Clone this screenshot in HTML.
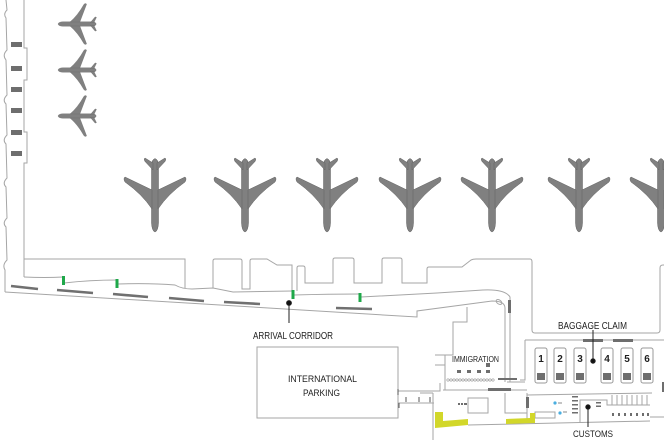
<!DOCTYPE html>
<html><head><meta charset="utf-8"><style>
html,body{margin:0;padding:0;background:#fff;}
svg{display:block;}
text{font-family:"Liberation Sans Narrow","Liberation Sans",sans-serif;fill:#1e1e1e;}
</style></head><body>
<svg width="664" height="440" viewBox="0 0 664 440" xmlns="http://www.w3.org/2000/svg">
<defs>
<g id="pl">
<path d="M-3.5,8 Q-3.5,3 0,1.5 Q3.5,3 3.5,8 L3.5,66 Q3,74 0,75 Q-3,74 -3.5,66 Z"/>
<path d="M-3,33 L-30,20 Q-32,21.5 -30,25 Q-13,37 -3,52 Z"/>
<path d="M3,33 L30,20 Q32,21.5 30,25 Q13,37 3,52 Z"/>
<path d="M-2,6 L-10,1 Q-11.5,2 -10,4.5 L-2,13 Z"/>
<path d="M2,6 L10,1 Q11.5,2 10,4.5 L2,13 Z"/>
</g>
</defs>
<g fill="#808080" stroke="#626262" stroke-width="0.5">
<use href="#pl" transform="translate(155,157)"/>
<use href="#pl" transform="translate(245,157)"/>
<use href="#pl" transform="translate(327,157)"/>
<use href="#pl" transform="translate(410,157)"/>
<use href="#pl" transform="translate(492,157)"/>
<use href="#pl" transform="translate(579,157)"/>
<use href="#pl" transform="translate(661,157)"/>
<use href="#pl" transform="translate(97,24) scale(0.52,0.66) rotate(90)"/>
<use href="#pl" transform="translate(97,70) scale(0.52,0.66) rotate(90)"/>
<use href="#pl" transform="translate(97,116) scale(0.52,0.66) rotate(90)"/>
</g>
<g fill="none" stroke="#a6a6a6" stroke-width="1">
<path d="M6,0 L7,10 Q3,14 6,18 L7,50 Q2,55 6,60 L7,95 Q2,100 6,104 L7,135 Q2,140 6,144 L7,178 Q2,183 6,187 L7,218 Q2,223 6,227 L7,260 Q2,265 5,270 L5,292"/>
<path d="M24,0 V48 H27 V80 H24 V132 H27 V163 H24 V277"/>
<path d="M5,292 L417,317 V311 L492,301 Q505,301 505,308 V382"/>
<path d="M24,277 Q45,278 63,277 M64,283 Q90,280 117,280 M118,284 Q150,283 175,285 Q182,289 192,289 L213,288 L233,292 L292,291 M294,295 Q330,294 359,294 M361,297 Q400,295 437,293 L483,290 Q505,289 510,297 V300"/>
<path d="M24,259 H185 V288"/>
<path d="M213,288 V261 Q213,259 215,259 H240 Q242,259 242,261 V289 H250 V261 Q250,259 252,259 H267 L277,265 H292 V291"/>
<path d="M297,291 V268 Q297,266 299,266 H303 Q305,266 305,268 V283 H333 V260 Q333,258 335,258 H352 Q354,258 354,260 V283 H382 V260 Q382,258 384,258 H400 Q402,258 402,260 V283 H427 V269 Q427,267 429,267 H462 L471,260 Q473,259 476,259 H530 Q532,259 532,262 V330 Q532,333 535,333 H657 Q660,333 660,330 V268 Q660,265 663,265 H664"/>
<ellipse cx="499" cy="302" rx="3.2" ry="2" transform="rotate(35 499 302)"/>
<path d="M510,313 V382"/>
<path d="M467,307 V322 H453 V355 H445 V390 M435,355 H445 M435,365 H445"/>
<path d="M443,390 H527 M507,382 H525 M525,340 V380 H520 M525,340 H664"/>
<rect x="257" y="347" width="141" height="71"/>
<path d="M398,391 H440 V383 M398,403 H434 M433,393 V440 M420,393 H433 M430,397 V403"/>
<path d="M406,397 V402 M419,397 V402 M430,397 V402" stroke="#555"/>
<path d="M398,389 V395 M399,403 V408" stroke="#555"/>
<rect x="468" y="398" width="20" height="15"/>
<path d="M505,393 V413 H527 M527,393 V423 M527,395 L652,393"/>
<rect x="535" y="412" width="20" height="6"/>
<path d="M468,425 L650,421 M650,417 H664"/>
<path d="M580,422 V400 H607 V405 H650"/>
<path d="M612,395 V405 M617,395 V405 M622,395 V405 M627,395 V405 M632,395 V405 M637,395 V405 M642,395 V405 M647,395 V405"/>
<g stroke="#999" fill="#fff">
<rect x="535" y="348" width="12" height="35" rx="2"/>
<rect x="554" y="348" width="12" height="35" rx="2"/>
<rect x="574" y="348" width="12" height="35" rx="2"/>
<rect x="601" y="348" width="12" height="35" rx="2"/>
<rect x="621" y="348" width="12" height="35" rx="2"/>
<rect x="641" y="348" width="12" height="35" rx="2"/>
</g>
</g>
<g fill="#6e6e6e">
<rect x="11" y="42" width="11" height="5"/>
<rect x="11" y="66" width="11" height="5"/>
<rect x="11" y="87" width="11" height="5"/>
<rect x="11" y="108" width="11" height="5"/>
<rect x="11" y="130" width="11" height="5"/>
<rect x="11" y="151" width="11" height="5"/>
<rect x="508" y="300" width="3" height="13"/>
<rect x="488" y="388" width="23" height="3"/>
<rect x="498" y="378" width="19" height="2"/>
<rect x="526" y="397" width="3" height="11"/>
<rect x="583" y="339" width="20" height="3"/>
<rect x="613" y="339" width="20" height="3"/>
<rect x="662" y="382" width="3" height="10"/>
<rect x="537" y="373" width="8" height="7"/>
<rect x="556" y="373" width="8" height="7"/>
<rect x="576" y="373" width="8" height="7"/>
<rect x="603" y="373" width="8" height="7"/>
<rect x="623" y="373" width="8" height="7"/>
<rect x="643" y="373" width="8" height="7"/>
<rect x="457" y="370" width="4" height="3"/>
<rect x="467" y="370" width="4" height="3"/>
<rect x="477" y="370" width="4" height="3"/>
<rect x="486" y="370" width="4" height="3"/>
<rect x="486" y="363" width="4" height="4"/>
<rect x="458" y="403" width="2" height="2"/>
<rect x="461" y="403" width="2" height="2"/>
<rect x="464" y="403" width="3" height="2"/>
<rect x="572" y="396" width="6" height="1.5"/>
<rect x="572" y="400" width="6" height="1.5"/>
<rect x="572" y="404" width="6" height="1.5"/>
<rect x="572" y="408" width="6" height="1.5"/>
<rect x="572" y="412" width="6" height="1.5"/>
<rect x="596" y="402" width="5" height="1.5"/>
<rect x="596" y="405.5" width="5" height="1.5"/>
<rect x="612" y="413" width="2" height="3"/>
<rect x="618" y="413" width="2" height="3"/>
<rect x="624" y="413" width="2" height="3"/>
<rect x="630" y="413" width="2" height="3"/>
<rect x="636" y="413" width="2" height="3"/>
<rect x="642" y="413" width="2" height="3"/>
<rect x="647" y="413" width="2" height="3"/>
</g>
<g fill="none" stroke="#999" stroke-width="0.6">
<circle cx="448" cy="380" r="1.2"/><circle cx="451" cy="380" r="1.2"/><circle cx="454" cy="380" r="1.2"/><circle cx="457" cy="380" r="1.2"/><circle cx="460" cy="380" r="1.2"/><circle cx="463" cy="380" r="1.2"/><circle cx="466" cy="380" r="1.2"/><circle cx="469" cy="380" r="1.2"/><circle cx="472" cy="380" r="1.2"/><circle cx="475" cy="380" r="1.2"/><circle cx="478" cy="380" r="1.2"/><circle cx="481" cy="380" r="1.2"/><circle cx="484" cy="380" r="1.2"/><circle cx="487" cy="380" r="1.2"/><circle cx="490" cy="380" r="1.2"/><circle cx="493" cy="380" r="1.2"/>
</g>
<g stroke="#707070" stroke-width="2.6">
<line x1="11" y1="286" x2="38" y2="289"/>
<line x1="57" y1="290" x2="93" y2="293"/>
<line x1="113" y1="294" x2="148" y2="297"/>
<line x1="169" y1="298" x2="204" y2="301"/>
<line x1="224" y1="302" x2="260" y2="304"/>
<line x1="336" y1="308" x2="372" y2="309"/>
</g>
<g fill="#1fa84a">
<rect x="62" y="276" width="3" height="9"/>
<rect x="115.5" y="279" width="3" height="9"/>
<rect x="291.5" y="290" width="3" height="9"/>
<rect x="358.5" y="293" width="3" height="9"/>
</g>
<g fill="#d2d72a">
<polygon points="435,412 443,412 443,421 468,419 468,425 435,428"/>
<polygon points="506,419 530,418 530,413 535,413 535,423 506,424"/>
</g>
<g fill="#4aaee0">
<circle cx="555" cy="403" r="1.6"/>
<circle cx="560" cy="413" r="1.6"/>
</g>
<path d="M558,403 H562 M563,412 H567" stroke="#888" stroke-width="1"/>
<g stroke="#222" stroke-width="1" fill="#111">
<line x1="289" y1="303" x2="289" y2="323"/>
<circle cx="289" cy="303" r="2.4"/>
<line x1="593" y1="330" x2="593" y2="361"/>
<circle cx="593" cy="361" r="2.2"/>
<line x1="588" y1="407" x2="588" y2="427"/>
<circle cx="588" cy="407" r="2.2"/>
</g>
<text x="253" y="339" font-size="10" textLength="80" lengthAdjust="spacingAndGlyphs">ARRIVAL CORRIDOR</text>
<text x="288" y="382" font-size="9.5" textLength="69" lengthAdjust="spacingAndGlyphs">INTERNATIONAL</text>
<text x="303" y="396" font-size="9.5" textLength="37" lengthAdjust="spacingAndGlyphs">PARKING</text>
<text x="452" y="362" font-size="8" textLength="47" lengthAdjust="spacingAndGlyphs">IMMIGRATION</text>
<text x="558" y="329" font-size="10" textLength="69" lengthAdjust="spacingAndGlyphs">BAGGAGE CLAIM</text>
<text x="573" y="437" font-size="9.5" textLength="40" lengthAdjust="spacingAndGlyphs">CUSTOMS</text>
<g font-size="10" font-weight="bold" text-anchor="middle">
<text x="541" y="362">1</text>
<text x="560" y="362">2</text>
<text x="580" y="362">3</text>
<text x="607" y="362">4</text>
<text x="627" y="362">5</text>
<text x="647" y="362">6</text>
</g>
</svg>
</body></html>
